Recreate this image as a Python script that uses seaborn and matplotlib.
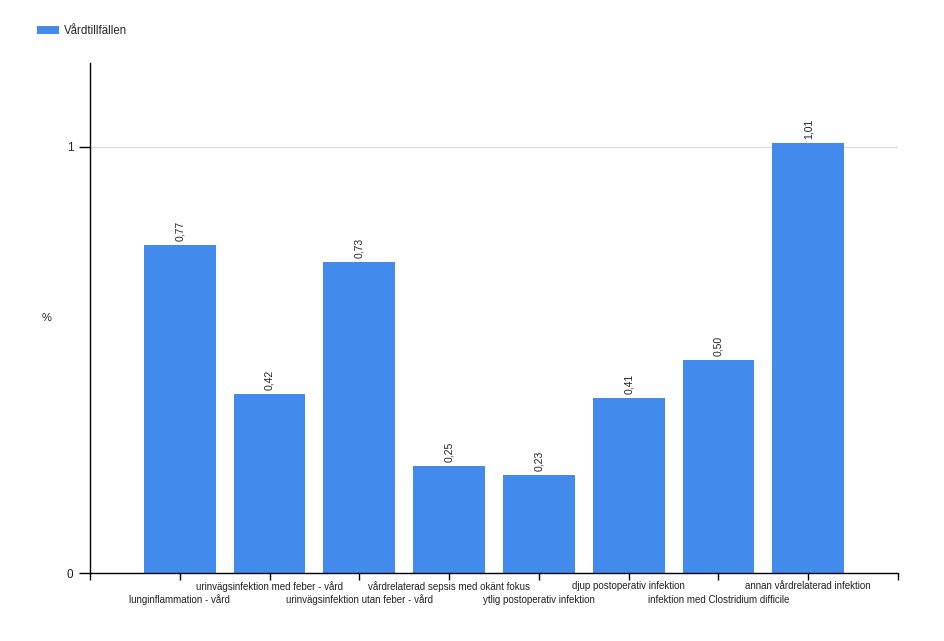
import matplotlib
matplotlib.use("Agg")
import matplotlib.pyplot as plt
import seaborn as sns
import pandas as pd
from matplotlib.patches import Patch

categories = [
    "lunginflammation - vård",
    "urinvägsinfektion med feber - vård",
    "urinvägsinfektion utan feber - vård",
    "vårdrelaterad sepsis med okänt fokus",
    "ytlig postoperativ infektion",
    "djup postoperativ infektion",
    "infektion med Clostridium difficile",
    "annan vårdrelaterad infektion",
]
values = [0.77, 0.42, 0.73, 0.25, 0.23, 0.41, 0.50, 1.01]
series_name = "Vårdtillfällen"
y_label = "%"

sns.set_theme(style="white")
plt.rcParams['font.family'] = ['Liberation Sans', 'DejaVu Sans']

color = "#428BEC"
df = pd.DataFrame({"cat": categories, "val": values})

fig = plt.figure(figsize=(9.44, 6.41), dpi=100)
ax = fig.add_axes([90/944, 1-573/641, (898-90)/944, (573-63)/641])
sns.barplot(data=df, x="cat", y="val", order=categories, color=color,
            saturation=1, width=0.8, linewidth=0, ax=ax)

n = len(categories)
ax.set_xlim(-1, n)
ax.set_ylim(0, 1.197)

# upper row (major ticks): axis ends + categories 2,4,6,8
major_pos = [-1] + [i for i in range(n) if i % 2 == 1] + [n]
major_lab = [""] + [categories[i] for i in range(n) if i % 2 == 1] + [""]
# lower row (minor ticks): categories 1,3,5,7
minor_pos = [i for i in range(n) if i % 2 == 0]
minor_lab = [categories[i] for i in minor_pos]
ax.set_xticks(major_pos)
ax.set_xticklabels(major_lab, fontsize=7, color="#222222")
ax.set_xticks(minor_pos, minor=True)
ax.set_xticklabels(minor_lab, minor=True, fontsize=7, color="#222222")

ax.set_yticks([0, 1])
ax.set_yticklabels(["0", "1"], fontsize=8.5, color="#222222")
ax.tick_params(axis="x", which="major", direction="out", length=5, width=1,
               color="black", pad=1, bottom=True)
ax.tick_params(axis="x", which="minor", direction="out", length=5, width=1,
               color="black", pad=10.5, bottom=True)
ax.tick_params(axis="y", direction="out", length=8, width=1, color="black", pad=4, left=True)

ax.yaxis.grid(True, color="#dddddd", linewidth=1)
ax.xaxis.grid(False, which="both")
ax.set_axisbelow(True)

for s in ["top", "right"]:
    ax.spines[s].set_visible(False)
for s in ["left", "bottom"]:
    ax.spines[s].set_color("black")
    ax.spines[s].set_linewidth(1)

ax.set_xlabel("")
ax.set_ylabel("")
fig.text(47/944, 1-318/641, y_label, fontsize=8, ha="center", va="center", color="#222222")

for cont in ax.containers:
    ax.bar_label(cont, labels=[f"{v:.2f}".replace(".", ",") for v in values],
                 rotation=90, padding=3, fontsize=7.5, color="#222222")

handle = Patch(facecolor=color, edgecolor="none", label=series_name)
fig.legend(handles=[handle], loc="center left", bbox_to_anchor=(27/944, 1-31/641),
           frameon=False, fontsize=8.3, handlelength=1.9, handleheight=0.8,
           handletextpad=0.4)

fig.savefig("out.png", dpi=100)
